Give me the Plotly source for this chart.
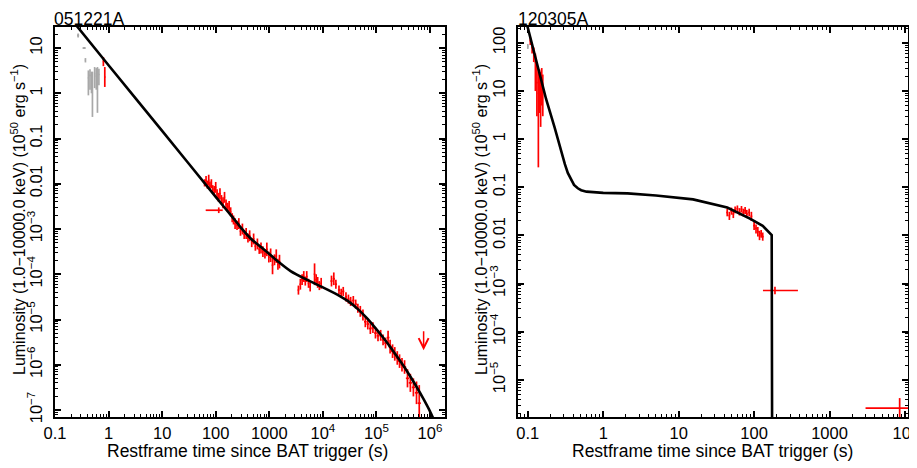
import numpy as np
import plotly.graph_objects as go

# ---------------- 051221A (left panel) ----------------
# model curve (restframe time s, log10 luminosity in 1e50 erg/s)
m1_t = [0.25, 1, 10, 100, 200, 300, 460, 700, 1000, 1500, 2500, 5000, 1e4, 2e4, 3e4, 4.5e4,
        6.5e4, 9e4, 1.3e5, 1.8e5, 2.6e5, 3.8e5, 5.5e5, 7.5e5, 1.0e6, 1.3e6]
m1_logL = [1.50, 0.62, -0.83, -2.29, -2.72, -2.98, -3.22, -3.40, -3.55, -3.73, -3.93, -4.12, -4.29,
           -4.47, -4.60, -4.77, -4.96, -5.15, -5.38, -5.60, -5.87, -6.16, -6.47, -6.75, -7.03,
           -7.33]

# BAT (grey) points
g1_t = [0.27, 0.35, 0.37, 0.42, 0.45, 0.48, 0.50, 0.55, 0.59, 0.62, 0.66]
g1_L = [19, 10, 5.4, 2.2, 2.5, 2.0, 1.4, 2.7, 2.4, 1.6, 2.6]
g1_lo = [17, 9.5, 4.8, 0.9, 1.2, 1.0, 0.3, 1.3, 1.2, 0.37, 1.5]
g1_hi = [21, 10.5, 6.0, 3.2, 3.4, 3.0, 3.0, 3.8, 3.6, 3.8, 3.5]
g1_tdex = [0.02, 0.03, 0.01, 0.01, 0.01, 0.01, 0.01, 0.01, 0.01, 0.01, 0.01]

# XRT (red) points
r1_t = [0.80, 0.85,
        62, 66, 70, 74, 78, 83, 88, 94, 100, 106, 113, 120, 128, 137, 146, 156, 167, 178, 190, 203,
        215, 230, 250, 270, 290, 315, 340, 370, 400, 430, 470, 510, 550, 600, 650, 700, 760, 830,
        900, 980, 1060, 1150, 1250, 1350, 1450, 1550,
        3500, 3800, 4100, 4400, 4700, 5000, 5400, 5800,
        7000, 7500, 8000, 8600, 9300,
        1.45e4, 1.6e4, 1.75e4, 2.0e4, 2.2e4, 2.4e4, 2.7e4, 3.0e4, 3.3e4, 3.7e4, 4.1e4, 4.5e4,
        5.0e4, 5.6e4, 6.2e4, 6.9e4, 7.7e4, 8.6e4, 9.6e4, 1.07e5, 1.2e5, 1.33e5, 1.48e5, 1.65e5,
        1.8e5, 2.0e5, 2.2e5, 2.45e5, 2.7e5, 3.0e5, 3.35e5, 3.8e5, 4.3e5, 4.9e5, 5.6e5, 6.3e5]
r1_logL = [0.70, 0.36,
           -1.98, -1.93, -2.02, -1.92, -2.05, -2.00, -2.12, -2.15, -2.08, -2.22, -2.30, -2.22,
           -2.35, -2.42, -2.30, -2.45, -2.52, -2.50, -2.62, -2.75,
           -2.80, -2.88, -2.92, -2.88, -3.05, -3.00, -3.12, -3.10, -3.20, -3.15, -3.30, -3.22,
           -3.38, -3.33, -3.45, -3.42, -3.50, -3.55, -3.45, -3.62, -3.58, -3.80, -3.68, -3.60,
           -3.78, -3.72,
           -4.35, -4.22, -4.12, -4.05, -4.15, -4.05, -4.20, -4.28,
           -4.00, -4.12, -4.18, -4.25, -4.20,
           -4.15, -4.10, -4.22, -4.35, -4.42, -4.38, -4.50, -4.55, -4.60, -4.58, -4.66, -4.75,
           -4.82, -4.90, -5.05, -5.10, -5.20, -5.18, -5.30, -5.36, -5.35, -5.45, -5.52, -5.40,
           -5.60, -5.70, -5.76, -5.85, -5.92, -6.00, -6.05, -6.30, -6.40, -6.50, -6.62, -6.85]
r1_dex = [0.10, 0.22,
          0.08, 0.10, 0.09, 0.12, 0.10, 0.10, 0.09, 0.10, 0.12, 0.10, 0.10, 0.12, 0.10, 0.12,
          0.12, 0.10, 0.10, 0.12, 0.10, 0.10,
          0.10, 0.12, 0.10, 0.12, 0.10, 0.12, 0.10, 0.12, 0.10, 0.12, 0.10, 0.12, 0.10, 0.12,
          0.10, 0.12, 0.12, 0.10, 0.15, 0.12, 0.15, 0.20, 0.12, 0.15, 0.12, 0.15,
          0.10, 0.12, 0.12, 0.12, 0.10, 0.12, 0.10, 0.10,
          0.24, 0.12, 0.12, 0.10, 0.12,
          0.12, 0.14, 0.10, 0.10, 0.10, 0.10, 0.10, 0.10, 0.10, 0.10, 0.10, 0.10,
          0.12, 0.12, 0.12, 0.12, 0.12, 0.12, 0.12, 0.12, 0.12, 0.12, 0.12, 0.15,
          0.15, 0.15, 0.15, 0.15, 0.15, 0.15, 0.15, 0.20, 0.20, 0.20, 0.25, 0.40]
r1_tdex = [0.01, 0.01] + [0.012] * 20 + [0.015] * 26 + [0.015] * 8 + [0.015] * 5 + [0.02] * 12 + \
          [0.025] * 12 + [0.03] * 12

# wide cross point
c1_t, c1_tlo, c1_thi = [114], [65], [135]
c1_L, c1_Llo, c1_Lhi = [2.6e-3], [2.25e-3], [3.0e-3]

# upper limit (arrow)
u1_t = [7.6e5]
u1_top = [5.9e-6]
u1_tip = [2.1e-6]

# ---------------- 120305A (right panel) ----------------
m2_t = [0.095, 0.1, 0.175, 0.226, 0.277, 0.31, 0.339, 0.37, 0.41, 0.46, 0.51, 0.6, 0.69, 1.0,
        2.1, 5.0, 15.5, 44, 88, 130, 171, 173, 173.5]
m2_logL = [2.45, 2.31, 0.83, 0.25, -0.28, -0.52, -0.70, -0.83, -0.95, -1.02, -1.06, -1.09, -1.10,
           -1.115, -1.125, -1.17, -1.25, -1.42, -1.65, -1.80, -1.99, -3.5, -6.5]

g2_t, g2_L, g2_lo, g2_hi = [0.1], [85], [75], [95]

r2_t = [0.108, 0.114, 0.120, 0.126, 0.132, 0.138, 0.143, 0.148, 0.153, 0.158,
        44, 47, 50, 53, 56, 60, 64, 68, 72, 76, 80, 86, 92,
        100, 106, 112, 118, 124, 130]
r2_L = [110, 80, 60, 40, 15, 9, 12, 8, 14, 10,
        0.030, 0.026, 0.032, 0.028, 0.034, 0.036, 0.031, 0.035, 0.030, 0.033, 0.028, 0.030, 0.025,
        0.016, 0.014, 0.012, 0.010, 0.011, 0.0095]
r2_lo = [90, 60, 40, 10, 3, 0.26, 3.5, 1.8, 5, 3,
         0.025, 0.021, 0.027, 0.023, 0.029, 0.031, 0.026, 0.030, 0.025, 0.028, 0.023, 0.025, 0.020,
         0.013, 0.011, 0.0095, 0.008, 0.009, 0.0078]
r2_hi = [130, 100, 80, 60, 35, 25, 28, 25, 30, 22,
         0.036, 0.031, 0.038, 0.033, 0.040, 0.042, 0.037, 0.041, 0.036, 0.039, 0.034, 0.036, 0.031,
         0.019, 0.017, 0.015, 0.0125, 0.013, 0.0115]
r2_tdex = [0.008] * 10 + [0.012] * 13 + [0.012] * 6

c2_t = [189, 8500]
c2_tlo = [131, 3000]
c2_thi = [381, 2.0e4]
c2_L = [7.2e-4, 2.6e-6]
c2_Llo = [6.0e-4, 1.0e-6]
c2_Lhi = [8.6e-4, 4.2e-6]

# ---------------- tick labels ----------------
x1_ticks = [0.1, 1, 10, 100, 1000, 1e4, 1e5, 1e6]
x1_text = ["0.1", "1", "10", "100", "1000", "10<sup>4</sup>", "10<sup>5</sup>", "10<sup>6</sup>"]
y1_ticks = [10, 1, 0.1, 0.01, 1e-3, 1e-4, 1e-5, 1e-6, 1e-7]
y1_text = ["10", "1", "0.1", "0.01", "10<sup>−3</sup>", "10<sup>−4</sup>", "10<sup>−5</sup>",
           "10<sup>−6</sup>", "10<sup>−7</sup>"]
x2_ticks = [0.1, 1, 10, 100, 1000, 1e4]
x2_text = ["0.1", "1", "10", "100", "1000", "10<sup>4</sup>"]
y2_ticks = [100, 10, 1, 0.1, 0.01, 1e-3, 1e-4, 1e-5]
y2_text = ["100", "10", "1", "0.1", "0.01", "10<sup>−3</sup>", "10<sup>−4</sup>", "10<sup>−5</sup>"]

RED = "#ff0000"
GREY = "#a8a8a8"
FONT = "Liberation Sans, Arial, sans-serif"

fig = go.Figure()


def err_trace(t, L, tlo, thi, Llo, Lhi, color, xa, ya):
    t, L = np.array(t, float), np.array(L, float)
    tlo, thi = np.array(tlo, float), np.array(thi, float)
    Llo, Lhi = np.array(Llo, float), np.array(Lhi, float)
    fig.add_trace(go.Scatter(
        x=t, y=L, mode="markers", marker=dict(size=1, color=color), showlegend=False,
        xaxis=xa, yaxis=ya, hoverinfo="skip",
        error_x=dict(type="data", symmetric=False, array=thi - t, arrayminus=t - tlo,
                     color=color, thickness=1.7, width=0),
        error_y=dict(type="data", symmetric=False, array=Lhi - L, arrayminus=L - Llo,
                     color=color, thickness=1.7, width=0)))


def dex_trace(t, L, dex, tdex, color, xa, ya):
    t, L = np.array(t, float), np.array(L, float)
    dex, tdex = np.array(dex, float), np.array(tdex, float)
    err_trace(t, L, t / 10 ** tdex, t * 10 ** tdex, L / 10 ** dex, L * 10 ** dex, color, xa, ya)


# left panel
err_trace(g1_t, g1_L, np.array(g1_t) / 10 ** np.array(g1_tdex), np.array(g1_t) * 10 ** np.array(g1_tdex),
          g1_lo, g1_hi, GREY, "x", "y")
dex_trace(r1_t, 10 ** np.array(r1_logL), r1_dex, r1_tdex, RED, "x", "y")
err_trace(c1_t, c1_L, c1_tlo, c1_thi, c1_Llo, c1_Lhi, RED, "x", "y")
fig.add_trace(go.Scatter(x=m1_t, y=10 ** np.array(m1_logL), mode="lines",
                         line=dict(color="black", width=2.6, shape="spline", smoothing=0.5),
                         showlegend=False, xaxis="x", yaxis="y", hoverinfo="skip"))

# right panel
err_trace(g2_t, g2_L, np.array(g2_t) * 0.98, np.array(g2_t) * 1.02, g2_lo, g2_hi, GREY, "x2", "y2")
err_trace(r2_t, r2_L, np.array(r2_t) / 10 ** np.array(r2_tdex), np.array(r2_t) * 10 ** np.array(r2_tdex),
          r2_lo, r2_hi, RED, "x2", "y2")
err_trace(c2_t, c2_L, c2_tlo, c2_thi, c2_Llo, c2_Lhi, RED, "x2", "y2")
fig.add_trace(go.Scatter(x=m2_t, y=10 ** np.array(m2_logL), mode="lines",
                         line=dict(color="black", width=2.6),
                         showlegend=False, xaxis="x2", yaxis="y2", hoverinfo="skip"))

# upper-limit arrow
fig.add_annotation(x=np.log10(u1_t[0]), y=np.log10(u1_tip[0]), ax=np.log10(u1_t[0]),
                   ay=np.log10(u1_top[0]), xref="x", yref="y", axref="x", ayref="y",
                   showarrow=True, arrowhead=5, arrowsize=1.3, arrowwidth=1.5, arrowcolor=RED, text="")


def minor_vals(lo, hi):
    return [m * 10.0 ** k for k in range(lo, hi) for m in range(2, 10)]


# the page body has an 8 px margin, so the figure is drawn 8 px in from the window corner
OFF = 8
W, H = 917 - OFF, 468 - OFF


def px_x(p):
    return (p - OFF) / W


def px_y(p):
    return 1 - (p - OFF) / H


axis_common = dict(type="log", showgrid=False, zeroline=False, showline=True, linecolor="black",
                   linewidth=2, mirror="ticks", ticks="inside", ticklen=6, tickwidth=1.5,
                   tickcolor="black", tickfont=dict(family=FONT, size=16.5, color="black"),
                   tickmode="array", automargin=False, ticklabeloverflow="allow")

fig.update_layout(
    width=W, height=H, margin=dict(l=0, r=0, t=0, b=0, autoexpand=False),
    paper_bgcolor="white", plot_bgcolor="white", showlegend=False,
    xaxis=dict(axis_common, domain=[px_x(55), px_x(445)], range=[-1.0, 6.28], anchor="y",
               tickvals=x1_ticks, ticktext=x1_text,
               minor=dict(ticks="inside", ticklen=3, tickwidth=1, tickcolor="black",
                          tickvals=minor_vals(-1, 7), showgrid=False)),
    yaxis=dict(axis_common, domain=[px_y(417), px_y(27)], range=[-7.155, 1.465], anchor="x",
               tickvals=y1_ticks, ticktext=y1_text, tickangle=-90, ticklabelstandoff=4,
               minor=dict(ticks="inside", ticklen=3, tickwidth=1, tickcolor="black",
                          tickvals=minor_vals(-8, 2), showgrid=False)),
    xaxis2=dict(axis_common, domain=[px_x(518), px_x(908)], range=[-1.13, 4.04], anchor="y2",
                tickvals=x2_ticks, ticktext=x2_text,
                minor=dict(ticks="inside", ticklen=3, tickwidth=1, tickcolor="black",
                           tickvals=minor_vals(-2, 5), showgrid=False)),
    yaxis2=dict(axis_common, domain=[px_y(417), px_y(27)], range=[-5.77, 2.33], anchor="x2",
                tickvals=y2_ticks, ticktext=y2_text, tickangle=-90, ticklabelstandoff=4,
                minor=dict(ticks="inside", ticklen=3, tickwidth=1, tickcolor="black",
                           tickvals=minor_vals(-6, 3), showgrid=False)),
)

tfont = dict(family=FONT, size=17.5, color="black")
yfont = dict(family=FONT, size=16, color="black")
ytitle = "Luminosity (1.0−10000.0 keV) (10<sup>50</sup> erg s<sup>−1</sup>)"
xtitle = "Restframe time since BAT trigger (s)"
for xc, xl, name in [(248, 55, "051221A"), (712, 519, "120305A")]:
    fig.add_annotation(x=px_x(xc), y=px_y(451), xref="paper", yref="paper", text=xtitle,
                       showarrow=False, font=tfont, xanchor="center", yanchor="middle")
    fig.add_annotation(x=px_x(xl - 2), y=px_y(8), xref="paper", yref="paper", text=name,
                       showarrow=False, font=tfont, xanchor="left", yanchor="top",
                       borderpad=0)
for xc in [18, 480]:
    fig.add_annotation(x=px_x(xc), y=px_y(220), xref="paper", yref="paper", text=ytitle,
                       showarrow=False, font=yfont, textangle=-90, xanchor="center",
                       yanchor="middle")

fig.write_html("out.html")
